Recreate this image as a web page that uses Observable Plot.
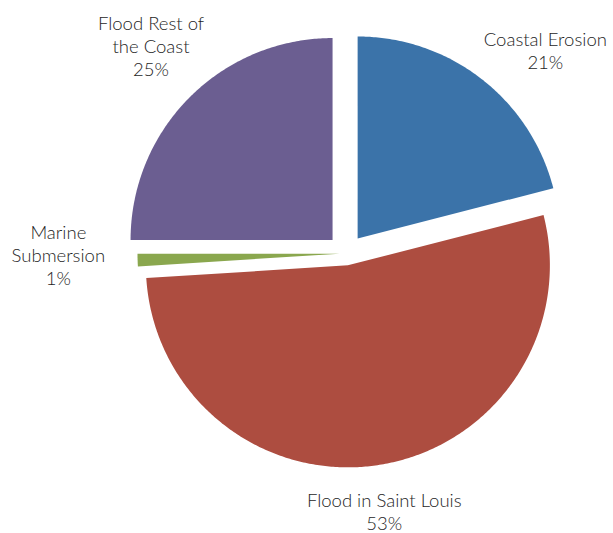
<!DOCTYPE html>
<html>
<head>
<meta charset="utf-8">
<script src="https://cdn.jsdelivr.net/npm/d3@7"></script>
<script src="https://cdn.jsdelivr.net/npm/@observablehq/plot@0.6"></script>
<style>
  html, body { margin: 0; padding: 0; background: #ffffff; }
  #chart svg { display: block; }
</style>
</head>
<body>
<div id="chart"></div>
<script>
// ---- data ----
const categories = ["Coastal Erosion", "Flood in Saint Louis", "Marine Submersion", "Flood Rest of the Coast"];
const values = [21, 53, 1, 25];
const labelNames = ["Coastal Erosion", "Flood in Saint Louis", "Marine\nSubmersion", "Flood Rest of\nthe Coast"];

// ---- style ----
const colors = ["#3b73a9", "#ad4d40", "#8aa74e", "#6b5e91"];
const W = 613, H = 533;
const CX = 345.5, CY = 253, R = 202;           // pie centre and radius (px)
const explodePx = [19, 12, 6.5, 19];           // per-slice explosion (px)
const labelR = 1.4;                            // label distance (radius units)
const labelNudge = [[26, 20], [-6, -22], [-5, -8], [5, -8]]; // px

const pie = d3.pie().sort(null).value(d => d)(values);

const slicePts = [];
pie.forEach((p, i) => {
  const mid = (p.startAngle + p.endAngle) / 2;
  const ox = Math.sin(mid) * explodePx[i] / R;
  const oy = -Math.cos(mid) * explodePx[i] / R;
  const cat = categories[i];
  slicePts.push({cat, x: ox, y: oy});
  const n = Math.max(4, Math.ceil((p.endAngle - p.startAngle) / 0.01));
  for (let k = 0; k <= n; k++) {
    const a = p.startAngle + (p.endAngle - p.startAngle) * k / n;
    slicePts.push({cat, x: ox + Math.sin(a), y: oy - Math.cos(a)});
  }
});

const labels = pie.map((p, i) => {
  const mid = (p.startAngle + p.endAngle) / 2;
  return {
    cat: categories[i],
    text: labelNames[i] + "\n" + values[i] + "%",
    x: Math.sin(mid) * labelR + labelNudge[i][0] / R,
    y: -Math.cos(mid) * labelR + labelNudge[i][1] / R
  };
});

const chart = Plot.plot({
  width: W,
  height: H,
  margin: 0,
  style: {background: "#ffffff"},
  x: {domain: [-CX / R, (W - CX) / R], range: [0, W], axis: null},
  y: {domain: [-CY / R, (H - CY) / R], range: [0, H], axis: null},
  color: {domain: categories, range: colors},
  marks: [
    Plot.line(slicePts, {x: "x", y: "y", z: "cat", fill: "cat", stroke: "none", curve: "linear-closed"}),
    Plot.text(labels, {
      x: "x", y: "y", text: "text",
      fontSize: 18.5, lineHeight: 1.25,
      fontFamily: "Lato, 'Open Sans', sans-serif",
      fontWeight: 300,
      fill: "#1e1e1e"
    })
  ]
});
document.getElementById("chart").appendChild(chart);
</script>
</body>
</html>
